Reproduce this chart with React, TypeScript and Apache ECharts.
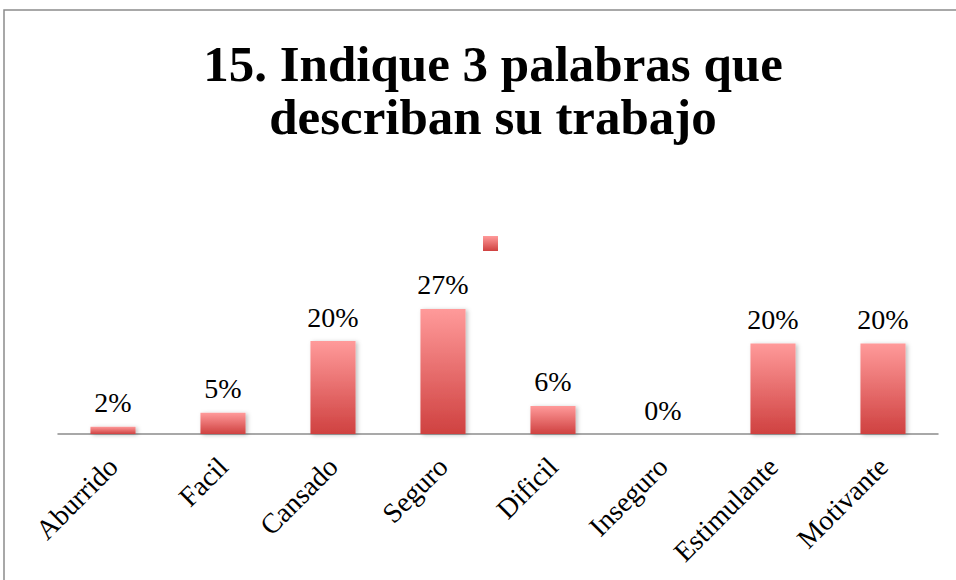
import React, { useEffect, useRef } from "react";
import * as echarts from "echarts";

const categories = ["Aburrido", "Facil", "Cansado", "Seguro", "Dificil", "Inseguro", "Estimulante", "Motivante"];
const values = [1.6, 4.6, 20.2, 27.2, 6.1, 0, 19.7, 19.7];
const titleLines = ["15. Indique 3 palabras que", "describan su trabajo"];

export default function App() {
  const ref = useRef<HTMLDivElement>(null);
  useEffect(() => {
    if (!ref.current) return;
    const chart = echarts.init(ref.current, null, { renderer: "svg" });
    const gradient = new echarts.graphic.LinearGradient(0, 0, 0, 1, [
      { offset: 0, color: "#FF9A9A" },
      { offset: 1, color: "#CF4140" },
    ]);
    chart.setOption({
      animation: false,
      backgroundColor: "#ffffff",
      title: {
        text: titleLines.join("\n"),
        left: 488,
        top: 32,
        textAlign: "center",
        textStyle: {
          fontFamily: "Liberation Serif",
          fontWeight: "bold",
          fontSize: 51,
          lineHeight: 53,
          color: "#000",
        },
      },
      legend: {
        data: [" "],
        left: 483,
        top: 236,
        padding: 0,
        icon: "rect",
        itemWidth: 15,
        itemHeight: 15,
        itemGap: 0,
        textStyle: { fontSize: 1 },
        selectedMode: false,
      },
      graphic: [
        {
          type: "rect",
          shape: { x: 4, y: 10, width: 1200, height: 1200 },
          style: { fill: "none", stroke: "#8c8c8c", lineWidth: 1.5 },
          silent: true,
        },
      ],
      grid: { left: 58, right: 18, top: 296, bottom: 146 },
      xAxis: {
        type: "category",
        data: categories,
        axisLine: { lineStyle: { color: "#8c8c8c", width: 1.5 } },
        axisTick: { show: false },
        axisLabel: {
          rotate: 45,
          interval: 0,
          margin: 28,
          fontFamily: "Liberation Serif",
          fontSize: 28,
          color: "#000",
        },
      },
      yAxis: {
        type: "value",
        min: 0,
        max: 30,
        show: false,
      },
      series: [
        {
          name: " ",
          type: "bar",
          data: values,
          barWidth: "41%",
          itemStyle: {
            color: gradient,
            shadowBlur: 4,
            shadowColor: "rgba(0,0,0,0.25)",
            shadowOffsetX: 2,
            shadowOffsetY: 1,
          },
          label: {
            show: true,
            position: "top",
            distance: 10,
            formatter: (p: any) => Math.round(p.value) + "%",
            fontFamily: "Liberation Serif",
            fontSize: 28,
            color: "#000",
          },
        },
      ],
    });
    return () => chart.dispose();
  }, []);
  return (
    <div
      ref={ref}
      style={{ position: "fixed", left: 0, top: 0, width: 956, height: 580 }}
    />
  );
}
